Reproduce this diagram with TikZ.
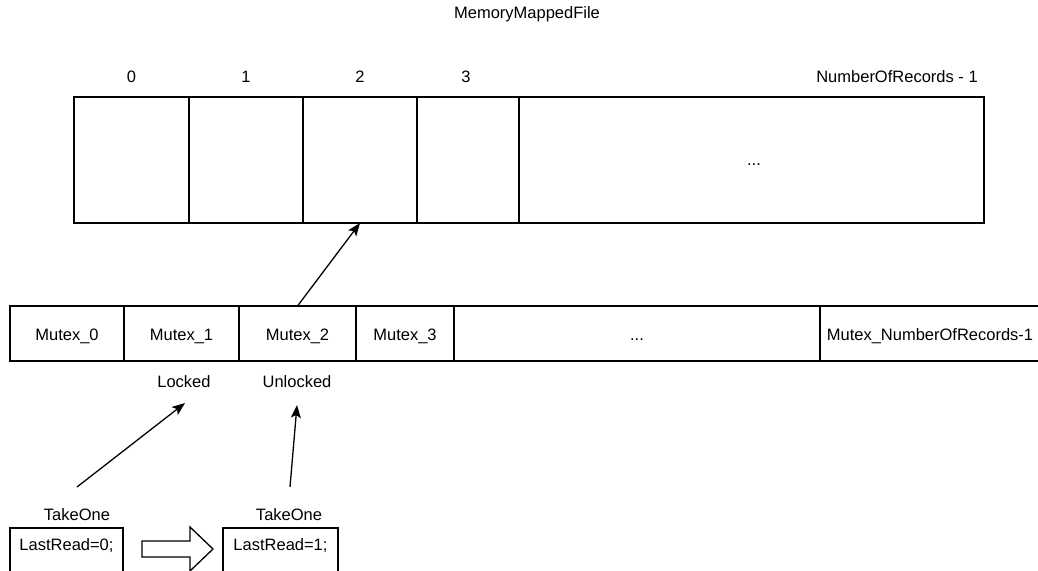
\documentclass[tikz,border=0pt]{standalone}
\usepackage{fontspec}
\setmainfont{Liberation Sans}
\usetikzlibrary{arrows.meta}

\tikzset{
  every node/.style={font=\fontsize{16.5}{20}\selectfont},
  cellbox/.style={draw=black, line width=1.3pt, inner sep=0pt, outer sep=0pt, fill=white},
  topcell/.style={cellbox, minimum height=126pt},
  mutexbox/.style={cellbox, minimum height=55pt, text height=13pt, text depth=0pt},
  readbox/.style={cellbox, minimum width=113pt, minimum height=44pt, text height=12pt, text depth=12pt},
  caption/.style={inner sep=0pt, anchor=base},
  pointer/.style={line width=1.3pt, -{Stealth[length=13pt, width=10pt, inset=3pt]}},
  hollowarrow/.style={draw=black, line width=1.3pt, fill=white, line join=miter},
}

\begin{document}
\begin{tikzpicture}[x=1pt, y=-1pt]
  \useasboundingbox (0,0) rectangle (1038,570);
  \fill[white] (0,0) rectangle (1038,570);

  % title
  \node[caption] (title) at (527,18) {MemoryMappedFile};

  % record indices
  \node[caption] (i0) at (131.5,82) {0};
  \node[caption] (i1) at (246,82) {1};
  \node[caption] (i2) at (360,82) {2};
  \node[caption] (i3) at (466,82) {3};
  \node[caption] (ilast) at (897,82) {NumberOfRecords - 1};

  % memory mapped records
  \node[topcell, minimum width=115pt] (c0) at (131.5,160) {};
  \node[topcell, minimum width=114pt] (c1) at (246,160) {};
  \node[topcell, minimum width=114pt] (c2) at (360,160) {};
  \node[topcell, minimum width=102pt] (c3) at (468,160) {};
  \node[topcell, minimum width=465pt] (c4) at (751.5,160) {};
  \node[caption] (cdots) at (754,165) {...};

  % mutex array
  \node[mutexbox, minimum width=114pt] (m0) at (67,333.5) {Mutex\_0};
  \node[mutexbox, minimum width=115pt] (m1) at (181.5,333.5) {Mutex\_1};
  \node[mutexbox, minimum width=117pt] (m2) at (297.5,333.5) {Mutex\_2};
  \node[mutexbox, minimum width=98pt] (m3) at (405,333.5) {Mutex\_3};
  \node[mutexbox, minimum width=366pt] (m4) at (637,333.5) {...};
  \node[mutexbox, minimum width=220pt] (m5) at (930,333.5) {Mutex\_NumberOfRecords-1};

  % mutex states
  \node[caption] (locked) at (184,387) {Locked};
  \node[caption] (unlocked) at (297,387) {Unlocked};

  % readers
  \node[caption] (take0) at (77,520) {TakeOne};
  \node[caption] (take1) at (289,520) {TakeOne};
  \node[readbox] (lr0) at (66.5,550) {LastRead=0;};
  \node[readbox, minimum width=115pt] (lr1) at (280.5,550) {LastRead=1;};

  % connectors
  \coordinate (from0) at (77,487);
  \coordinate (to0) at (185,403);
  \coordinate (from1) at (290,487);
  \coordinate (to1) at (297,405);
  \draw[pointer] (m2.north) -- (c2.south);
  \draw[pointer] (from0) -- (to0);
  \draw[pointer] (from1) -- (to1);

  % step from one reader state to the next
  \draw[hollowarrow] (142,541) -- (190,541) -- (190,527) -- (213,549)
    -- (190,571) -- (190,557) -- (142,557) -- cycle;
\end{tikzpicture}
\end{document}
